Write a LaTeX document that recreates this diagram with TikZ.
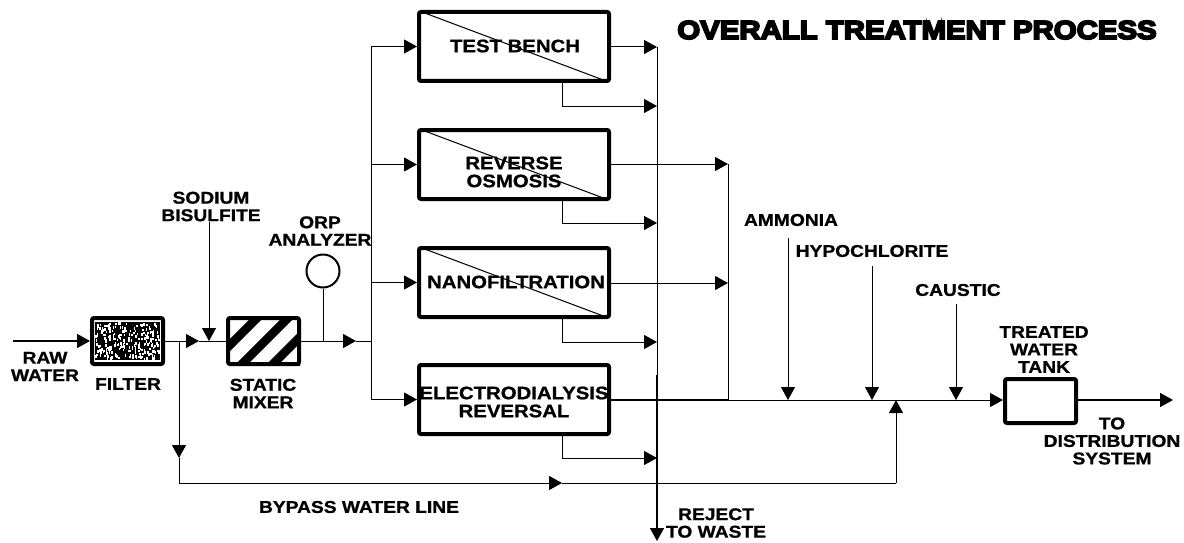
\documentclass[tikz,border=0pt]{standalone}
\usepackage{fontspec}
\setmainfont[FakeStretch=1.13,BoldFeatures={FakeBold=1}]{Liberation Sans}
\newfontfamily\titlefont[UprightFont={* Bold},FakeStretch=1.13,FakeBold=7]{Liberation Sans}
\usetikzlibrary{positioning, arrows.meta}
\begin{document}
\begin{tikzpicture}[x=1pt,y=-1pt,>={Triangle[length=13pt,width=14pt]},line width=1pt,
unit/.style={draw,line width=4pt,rounded corners=2pt,inner sep=0pt,minimum width=71pt,minimum height=46pt},
membrane/.style={draw,line width=4pt,rounded corners=2pt,inner sep=0pt,minimum width=190pt,minimum height=69pt},
txt/.style={inner sep=0pt,align=center,font=\fontsize{17}{17.5}\selectfont\bfseries},
boxtxt/.style={txt,font=\fontsize{18}{18}\selectfont\bfseries}]
\useasboundingbox (0,0) rectangle (1184,543);
\node[txt,font=\fontsize{26}{28}\titlefont] (title) at (917,30) {OVERALL TREATMENT PROCESS};
% pretreatment
\begin{scope}
\clip (227,317) rectangle (300,365);
\foreach \u in {544,575,606,637,668}
\draw[line width=8.5pt] (\u-300,300) -- (\u-380,380);
\end{scope}
\node[unit] (filter) at (127.5,341) {};
\node[unit] (mixer) at (263.5,341) {};
\pgfmathsetseed{4711}
\fill (95,322) rectangle (160,360);
\foreach \i in {1,...,240}
\fill[white] ({95+rnd*64},{322+rnd*36}) rectangle +(1.5,2.5);
\node[circle,draw,line width=2pt,minimum size=33pt,inner sep=0pt] (orp) at (323,271) {};
% membrane units
\node[membrane] (tb) at (514,46.5) {};
\node[membrane] (ro) at (514,164.5) {};
\node[membrane] (nf) at (514,282.5) {};
\node[membrane] (ed) at (514,399.5) {};
\foreach \m in {tb,ro,nf}
\draw (\m.north west) ++(5,2) -- ([xshift=-5pt,yshift=2pt]\m.south east);
\node[unit,minimum height=44pt] (tank) at (1040.5,401) {};
% free ends and junctions
\coordinate (rawin) at (13,341);
\coordinate (filterout) at (199,341);
\coordinate (dose) at (209,341);
\coordinate (bisulfite) at (209,222);
\coordinate (split) at (179,341);
\coordinate (splitdown) at (179,458);
\coordinate (corner) at (179,483);
\coordinate (bypassmid) at (562,483);
\coordinate (bypassend) at (896,483);
\coordinate (bypassin) at (896,400);
\coordinate (orptap) at (323,341);
\coordinate (mixerout) at (356,341);
\coordinate (feed) at (371,341);
\coordinate (feedtop) at (371,47);
\coordinate (feedbot) at (371,399);
\coordinate (rejtop) at (657,47);
\coordinate (rejmid) at (657,375);
\coordinate (tb-r) at (657,106);
\coordinate (ro-r) at (657,223);
\coordinate (nf-r) at (657,342);
\coordinate (ed-r) at (657,458);
\coordinate (rejend) at (657,541);
\coordinate (prodtop) at (728,164);
\coordinate (prodmid) at (728,283);
\coordinate (prodbot) at (728,400);
\coordinate (ammtop) at (788,238);
\coordinate (ammin) at (788,400);
\coordinate (hyptop) at (872,266);
\coordinate (hypin) at (872,400);
\coordinate (caustop) at (956,304);
\coordinate (causin) at (956,400);
\coordinate (tankin) at (1003,400);
\coordinate (tankout) at (1173,400);
% main line
\draw[->,line width=1.5pt] (rawin) -- (filter);
\draw[->] (filter) -- (filterout);
\draw (filterout) -- (mixer);
\draw[->] (bisulfite) -- (dose);
\draw[->] (mixer) -- (mixerout);
\draw (mixerout) -- (feed);
\draw (orp) -- (orptap);
\draw[->] (split) -- (splitdown);
\draw (splitdown) -- (corner);
\draw[->] (corner) -- (bypassmid);
\draw (bypassmid) -- (bypassend);
\draw[->] (bypassend) -- (bypassin);
\draw (feedtop) -- (feedbot);
\foreach \m in {tb,ro,nf,ed}
\draw[->] (\m.west -| feed) -- (\m.west);
% rejects
\draw[->] (tb.east |- rejtop) -- (rejtop);
\foreach \m in {tb,ro,nf,ed}
\draw[->] ([xshift=-49pt]\m.south east) |- (\m-r);
\draw (rejtop) -- (rejmid);
\draw[->,line width=1.6pt] (rejmid) -- (rejend);
% product
\draw[->] (ro.east |- prodtop) -- (prodtop);
\draw[->] (nf.east |- prodmid) -- (prodmid);
\draw (prodtop) -- (prodbot);
\draw[line width=1.5pt] (ed.east |- prodbot) -- (prodbot);
\draw[->] (prodbot) -- (tankin);
\draw[->] (ammtop) -- (ammin);
\draw[->] (hyptop) -- (hypin);
\draw[->] (caustop) -- (causin);
\draw[->,line width=1.5pt] (tank.east |- tankout) -- (tankout);
% labels
\node[txt] (rawlab) at (45,366.5) {RAW\\WATER};
\node[txt] (filterlab) at (128,384) {FILTER};
\node[txt] (mixerlab) at (263,393.5) {STATIC\\MIXER};
\node[txt] (sodiumlab) at (211,206.5) {SODIUM\\BISULFITE};
\node[txt] (orplab) at (320,231) {ORP\\ANALYZER};
\node[boxtxt] (tblab) at (515,46) {TEST BENCH};
\node[boxtxt] (rolab) at (514,172) {REVERSE\\OSMOSIS};
\node[boxtxt] (nflab) at (516,282) {NANOFILTRATION};
\node[boxtxt] (edlab) at (514,402) {ELECTRODIALYSIS\\REVERSAL};
\node[txt] (ammlab) at (791,220) {AMMONIA};
\node[txt] (hyplab) at (872,251) {HYPOCHLORITE};
\node[txt] (caulab) at (958,290) {CAUSTIC};
\node[txt] (tanklab) at (1044,349.5) {TREATED\\WATER\\TANK};
\node[txt] (distlab) at (1112,441) {TO\\DISTRIBUTION\\SYSTEM};
\node[txt] (bypasslab) at (359,507) {BYPASS WATER LINE};
\node[txt] (rejlab) at (716,523) {REJECT\\TO WASTE};
\end{tikzpicture}
\end{document}
